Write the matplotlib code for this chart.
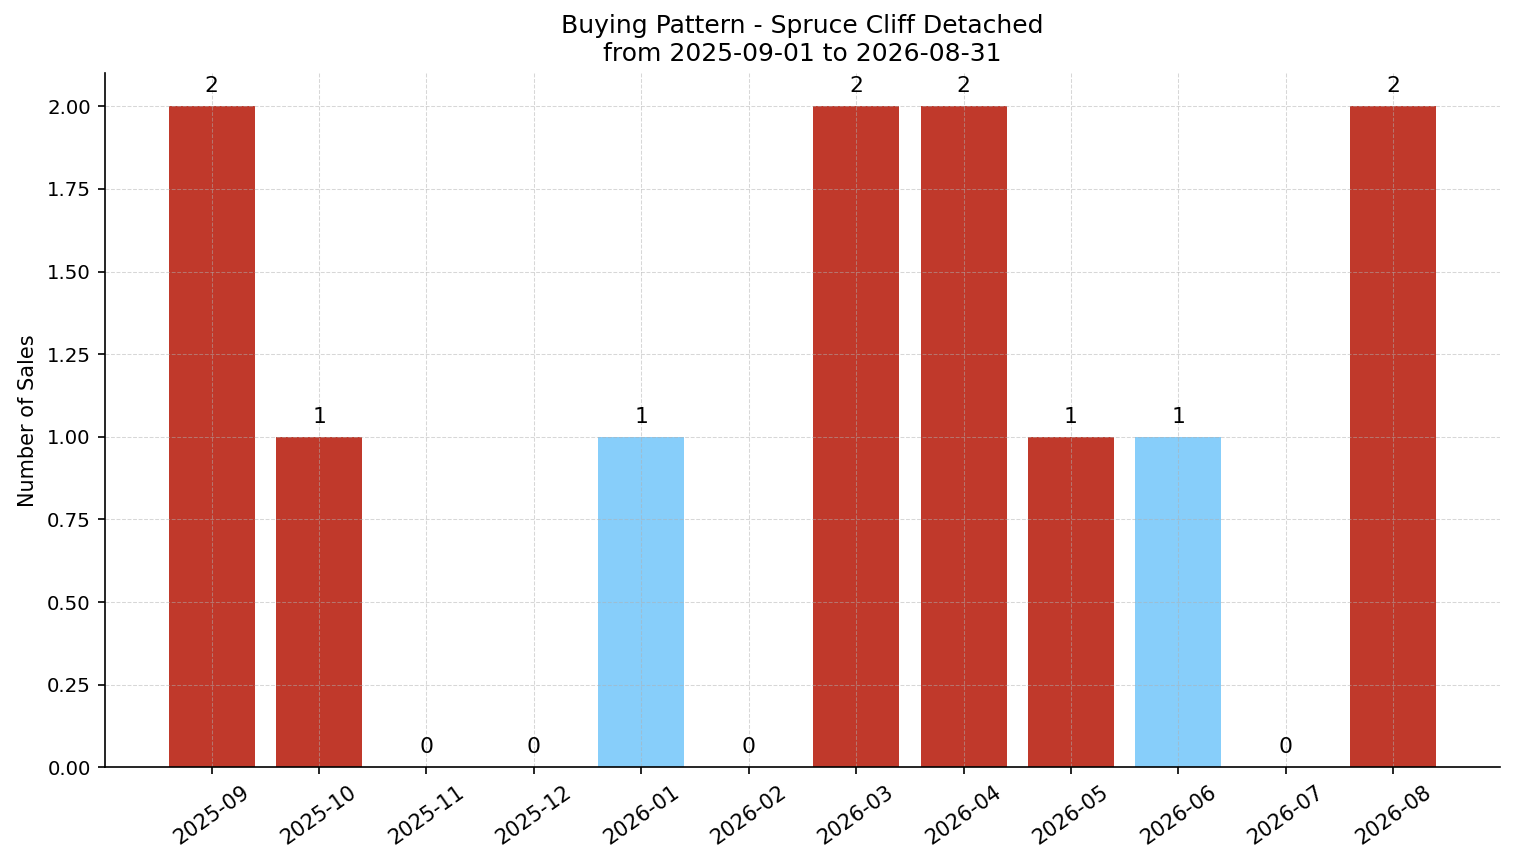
import matplotlib
matplotlib.use("Agg")
import matplotlib.pyplot as plt

months = ["2025-09", "2025-10", "2025-11", "2025-12", "2026-01", "2026-02",
          "2026-03", "2026-04", "2026-05", "2026-06", "2026-07", "2026-08"]
sales = [2, 1, 0, 0, 1, 0, 2, 2, 1, 1, 0, 2]
highlight = [False, False, False, False, True, False,
             False, False, False, True, False, False]

colors = ["#87CEFA" if h else "#C0392B" for h in highlight]

fig, ax = plt.subplots(figsize=(1514 / 150, 863 / 150), dpi=150)
bars = ax.bar(months, sales, color=colors, width=0.8)

for b, v in zip(bars, sales):
    ax.text(b.get_x() + b.get_width() / 2, v + 0.03, str(v),
            ha="center", va="bottom", fontsize=10.5)

ax.set_title("Buying Pattern - Spruce Cliff Detached\nfrom 2025-09-01 to 2026-08-31",
             fontsize=12)
ax.set_ylabel("Number of Sales", fontsize=10)
ax.tick_params(axis="y", labelsize=9.5)
ax.tick_params(axis="x", labelsize=10, rotation=35)
for lbl in ax.get_xticklabels():
    lbl.set_ha("center")
ax.set_ylim(0, 2.1)
ax.grid(True, linestyle="--", color="#b0b0b0", alpha=0.5, linewidth=0.5)
ax.spines["top"].set_visible(False)
ax.spines["right"].set_visible(False)

fig.subplots_adjust(left=0.0695, right=0.9905, top=0.915, bottom=0.111)
fig.savefig("out.png", dpi=150)
